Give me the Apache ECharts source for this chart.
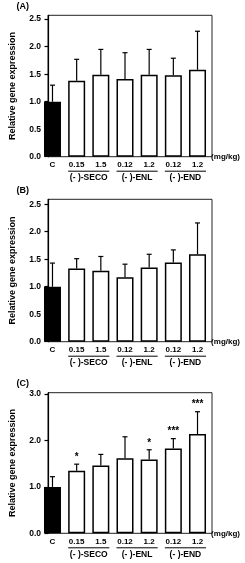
<!DOCTYPE html>
<html><head><meta charset="utf-8">
<script src="https://cdn.jsdelivr.net/npm/echarts@6/dist/echarts.min.js"></script>
<style>html,body{margin:0;padding:0;background:#fff}#c{width:245px;height:563px}</style>
</head><body><div id="c"></div>
<script>
const categories = ['C', '0.15', '1.5', '0.12', '1.2', '0.12', '1.2'];
const groupNames = ['(- )-SECO', '(- )-ENL', '(- )-END'];
const groupStart = [1, 3, 5];
const groupEnd = [2, 4, 6];
const unitLabel = '(mg/kg)';
const panelTitles = ['(A)', '(B)', '(C)'];
const yAxisName = 'Relative gene expression';

const meanA = [1.00, 1.38, 1.49, 1.41, 1.49, 1.48, 1.58];
const sdA   = [0.30, 0.39, 0.46, 0.48, 0.46, 0.31, 0.70];
const meanB = [1.00, 1.33, 1.29, 1.17, 1.35, 1.44, 1.59];
const sdB   = [0.43, 0.18, 0.26, 0.24, 0.24, 0.23, 0.57];
const meanC = [1.00, 1.35, 1.46, 1.62, 1.59, 1.83, 2.14];
const sdC   = [0.22, 0.14, 0.24, 0.46, 0.21, 0.21, 0.48];
const starsA = ['', '', '', '', '', '', ''];
const starsB = ['', '', '', '', '', '', ''];
const starsC = ['', '*', '', '', '*', '***', '***'];

const yTicksA = [0, 0.5, 1.0, 1.5, 2.0, 2.5];
const yTicksB = [0, 0.5, 1.0, 1.5, 2.0, 2.5];
const yTicksC = [0, 1.0, 2.0, 3.0];
const yMaxA = 2.57, yMaxB = 2.59, yMaxC = 3.03;

const FONT = 'Liberation Sans, Arial, Helvetica, sans-serif';
const panels = [
  {title: panelTitles[0], mean: meanA, sd: sdA, stars: starsA, ticks: yTicksA, max: yMaxA, top: 15.3, height: 141.4, titleTop: 2.5},
  {title: panelTitles[1], mean: meanB, sd: sdB, stars: starsB, ticks: yTicksB, max: yMaxB, top: 199.3, height: 142.4, titleTop: 186},
  {title: panelTitles[2], mean: meanC, sd: sdC, stars: starsC, ticks: yTicksC, max: yMaxC, top: 392.7, height: 140.6, titleTop: 379}
];

const BAR_W = 17;
const option = {
  animation: false,
  backgroundColor: '#fff',
  textStyle: {fontFamily: FONT},
  title: [], grid: [], xAxis: [], yAxis: [], series: []
};

panels.forEach((p, k) => {
  const gF = 2 * k, gD = 2 * k + 1;
  option.title.push({text: p.title, left: 16.5, top: p.titleTop, padding: 0,
    textStyle: {fontSize: 9, fontWeight: 'bold', color: '#000', fontFamily: FONT}});
  option.grid.push({left: 36.7, right: 33, top: p.top, height: p.height, show: true,
    borderColor: '#222', borderWidth: 1, backgroundColor: 'transparent', containLabel: false});
  option.grid.push({left: 40.4, right: 35.4, top: p.top, height: p.height, containLabel: false});
  // frame axes
  option.xAxis.push({gridIndex: gF, type: 'value', min: 0, max: 1, show: false});
  option.yAxis.push({gridIndex: gF, type: 'value', min: 0, max: p.max,
    axisLine: {show: true, lineStyle: {color: '#000', width: 1.2}},
    axisTick: {show: true, inside: false, length: 3.5, lineStyle: {color: '#000', width: 1.2}, customValues: p.ticks},
    axisLabel: {show: true, margin: 7, fontSize: 8.5, fontWeight: 'bold', color: '#000', fontFamily: FONT,
      customValues: p.ticks, formatter: v => v.toFixed(1)},
    splitLine: {show: false},
    name: yAxisName, nameLocation: 'middle', nameRotate: 90, nameGap: 31,
    nameTextStyle: {fontSize: 9, fontWeight: 'bold', color: '#000', fontFamily: FONT}
  });
  // data axes
  option.xAxis.push({gridIndex: gD, type: 'category', data: categories, boundaryGap: true,
    axisLine: {show: false}, axisTick: {show: false},
    axisLabel: {show: true, interval: 0, margin: 4, fontSize: 8, fontWeight: 'bold', color: '#000', fontFamily: FONT},
    name: unitLabel, nameLocation: 'end', nameGap: 1.5,
    nameTextStyle: {fontSize: 8, fontWeight: 'bold', color: '#000', fontFamily: FONT, verticalAlign: 'middle', padding: [15, 0, 0, 0]}
  });
  option.yAxis.push({gridIndex: gD, type: 'value', min: 0, max: p.max, show: false});

  option.series.push({
    type: 'bar', xAxisIndex: gD, yAxisIndex: gD, barWidth: BAR_W, z: 2,
    data: p.mean.map((v, i) => ({value: v, itemStyle: {color: i === 0 ? '#000' : '#fff', borderColor: '#000', borderWidth: 1.5}}))
  });
  option.series.push({
    type: 'custom', xAxisIndex: gD, yAxisIndex: gD, z: 3, clip: false,
    encode: {x: 0, y: 1},
    data: p.mean.map((v, i) => [i, v, p.sd[i]]),
    renderItem: function (params, api) {
      const i = api.value(0), m = api.value(1), s = api.value(2);
      const p0 = api.coord([i, m]);
      const p1 = api.coord([i, m + s]);
      const st = {stroke: '#000', lineWidth: 1.2};
      const children = [
        {type: 'line', shape: {x1: p0[0], y1: p0[1], x2: p1[0], y2: p1[1]}, style: st},
        {type: 'line', shape: {x1: p1[0] - 2.5, y1: p1[1], x2: p1[0] + 2.5, y2: p1[1]}, style: st}
      ];
      const star = p.stars[params.dataIndex];
      if (star) {
        children.push({type: 'text', style: {text: star, x: p1[0], y: p1[1] - 2, align: 'center', verticalAlign: 'bottom',
          fontSize: 10, fontWeight: 'bold', fontFamily: FONT, fill: '#000'}});
      }
      return {type: 'group', children: children};
    }
  });
  option.series.push({
    type: 'custom', xAxisIndex: gD, yAxisIndex: gD, z: 3, clip: false,
    encode: {x: [0, 1], y: 2},
    data: groupStart.map((s, j) => [s, groupEnd[j], 0]),
    renderItem: function (params, api) {
      const a = api.coord([api.value(0), 0]);
      const b = api.coord([api.value(1), 0]);
      const y = a[1] + 14.5;
      return {type: 'group', children: [
        {type: 'line', shape: {x1: a[0] - BAR_W / 2, y1: y, x2: b[0] + BAR_W / 2, y2: y}, style: {stroke: '#000', lineWidth: 1}},
        {type: 'text', style: {text: groupNames[params.dataIndex], x: (a[0] + b[0]) / 2, y: y + 2, align: 'center', verticalAlign: 'top',
          fontSize: 8.5, fontWeight: 'bold', fontFamily: FONT, fill: '#000'}}
      ]};
    }
  });
});

const chart = echarts.init(document.getElementById('c'), null, {renderer: 'canvas'});
chart.setOption(option);
</script>
</body></html>
